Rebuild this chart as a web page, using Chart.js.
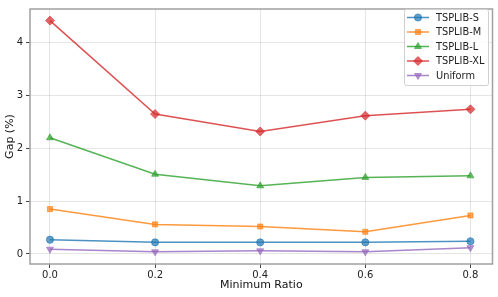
<!DOCTYPE html>
<html><head><meta charset="utf-8">
<script src="https://cdn.jsdelivr.net/npm/chart.js@4"></script>
<style>html,body{margin:0;padding:0;background:#fff}#wrap{width:498px;height:297px}</style>
</head><body><div id="wrap"><canvas id="c" width="498" height="297"></canvas></div>
<script>
const ratios = [0.0, 0.2, 0.4, 0.6, 0.8];
const tsplibS = [0.27, 0.22, 0.22, 0.22, 0.24];
const tsplibM = [0.85, 0.56, 0.52, 0.42, 0.73];
const tsplibL = [2.20, 1.51, 1.29, 1.45, 1.48];
const tsplibXL = [4.42, 2.65, 2.32, 2.62, 2.74];
const uniform = [0.09, 0.04, 0.06, 0.04, 0.12];
const xTicks = [0.0, 0.2, 0.4, 0.6, 0.8];
const yTicks = [0, 1, 2, 3, 4];

const FONT = 'DejaVu Sans';
function ds(label, vals, color, style, rot) {
  return {
    label, data: ratios.map((r, i) => ({x: r, y: vals[i]})),
    borderColor: color + 'cc', backgroundColor: color + 'b3', pointBorderColor: color + '99',
    borderWidth: 1.5, pointStyle: style, pointRotation: rot || 0,
    pointRadius: style === 'rectRot' ? 4.5 : (style === 'triangle' ? 4 : 3.6), pointBorderWidth: 1, pointHoverRadius: 4
  };
}
const datasets = [
  ds('TSPLIB-S', tsplibS, '#1f77b4', 'circle'),
  ds('TSPLIB-M', tsplibM, '#ff7f0e', 'rect'),
  ds('TSPLIB-L', tsplibL, '#2ca02c', 'triangle'),
  ds('TSPLIB-XL', tsplibXL, '#d62728', 'rectRot'),
  ds('Uniform', uniform, '#9467bd', 'triangle', 180)
];

const frame = {
  id: 'frame',
  afterDraw(chart) {
    const {ctx, chartArea: a} = chart;
    ctx.save();
    ctx.strokeStyle = '#a0a0a0';
    ctx.lineWidth = 1.5;
    ctx.strokeRect(a.left, a.top, a.right - a.left, a.bottom - a.top);
    // legend
    const bx = 404, by = 9, bw = 84, bh = 76;
    ctx.fillStyle = 'rgba(255,255,255,0.85)';
    ctx.strokeStyle = '#d0d0d0';
    ctx.lineWidth = 1;
    ctx.beginPath();
    ctx.roundRect ? ctx.roundRect(bx + 0.5, by + 0.5, bw, bh, 2) : ctx.rect(bx + 0.5, by + 0.5, bw, bh);
    ctx.fill(); ctx.stroke();
    chart.data.datasets.forEach((d, i) => {
      const y = by + 8.5 + i * 14.5;
      ctx.strokeStyle = d.borderColor; ctx.lineWidth = 1.5;
      ctx.beginPath(); ctx.moveTo(bx + 3, y); ctx.lineTo(bx + 25, y); ctx.stroke();
      ctx.fillStyle = d.backgroundColor; ctx.strokeStyle = d.pointBorderColor; ctx.lineWidth = 1;
      Chart.helpers.drawPoint(ctx, {pointStyle: d.pointStyle, rotation: d.pointRotation, radius: d.pointRadius, borderWidth: 1}, bx + 14, y);
      ctx.fillStyle = '#222';
      ctx.font = '9.8px "' + FONT + '"';
      ctx.textBaseline = 'middle';
      ctx.fillText(d.label, bx + 32, y + 0.5);
    });
    ctx.restore();
  }
};

new Chart(document.getElementById('c'), {
  type: 'line',
  data: {datasets},
  options: {
    responsive: false, animation: false, devicePixelRatio: 1,
    layout: {padding: {top: 5, right: 5, left: 0, bottom: 0}},
    plugins: {legend: {display: false}, tooltip: {enabled: false}},
    scales: {
      x: {
        type: 'linear', min: -0.038, max: 0.842,
        afterBuildTicks: s => { s.ticks = xTicks.map(v => ({value: v})); },
        afterFit: s => { s.height = 33; },
        grid: {color: 'rgba(0,0,0,0.1)', borderDash: [3, 3], tickColor: '#444', tickLength: 4, drawTicks: true},
        border: {display: false},
        ticks: {color: '#222', font: {family: FONT, size: 10}, padding: 1, maxRotation: 0,
          callback: v => v.toFixed(1)},
        title: {display: true, text: 'Minimum Ratio', color: '#111', font: {family: FONT, size: 11}, padding: {top: 5.4, bottom: 5.4}}
      },
      y: {
        type: 'linear', min: -0.19, max: 4.64,
        afterBuildTicks: s => { s.ticks = yTicks.map(v => ({value: v})); },
        afterFit: s => { s.width = 30; },
        grid: {color: 'rgba(0,0,0,0.1)', borderDash: [3, 3], tickColor: '#444', tickLength: 4, drawTicks: true},
        border: {display: false},
        ticks: {color: '#222', font: {family: FONT, size: 10}, padding: 3,
          callback: v => String(v)},
        title: {display: true, text: 'Gap (%)', color: '#111', font: {family: FONT, size: 11}, padding: {top: 3.4, bottom: 3.4}}
      }
    }
  },
  plugins: [frame]
});
</script>
</body></html>
